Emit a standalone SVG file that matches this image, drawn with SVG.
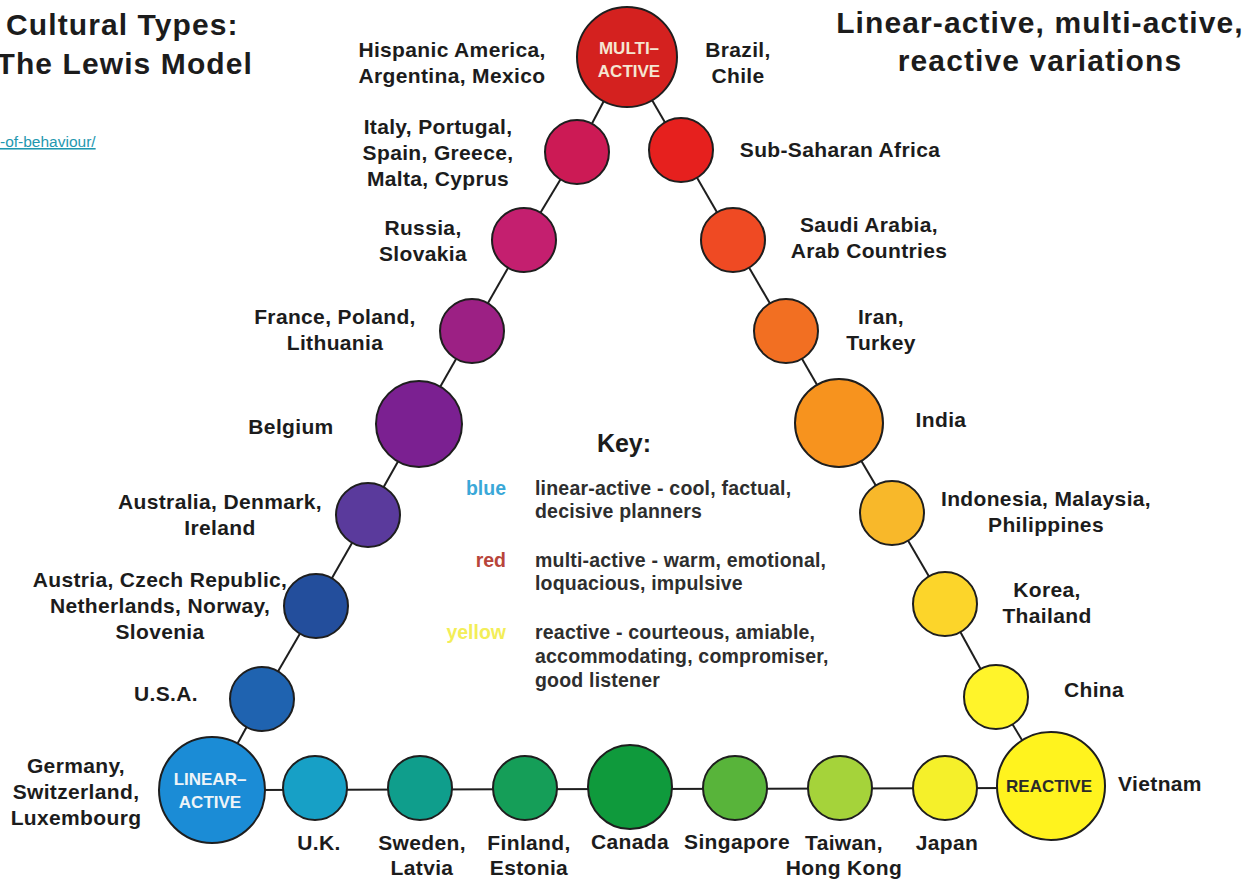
<svg xmlns="http://www.w3.org/2000/svg" width="1255" height="882" viewBox="0 0 1255 882">
<style>
.t{font-family:"Liberation Sans",Arial,sans-serif;font-weight:bold;fill:#1c1c1c}
.title{font-size:30px;letter-spacing:1.1px}
.lab{font-size:21px;letter-spacing:0.35px;text-anchor:middle}
.key{font-size:19.5px;fill:#2e2e2e;letter-spacing:0.2px}
.kc{font-size:19.5px;text-anchor:end}
.n{stroke:#1e1e1e;stroke-width:2}
.in{font-family:"Liberation Sans",Arial,sans-serif;font-weight:bold;font-size:17px;text-anchor:middle}
.c line{stroke:#1e1e1e;stroke-width:2}
</style>
<rect width="1255" height="882" fill="#ffffff"/>

<g id="titles">
<text class="t title" x="6" y="35">Cultural Types:</text>
<text class="t title" x="253" y="74" text-anchor="end">The Lewis Model</text>
<text class="t title" x="1040" y="33" text-anchor="middle">Linear-active, multi-active,</text>
<text class="t title" x="1040" y="71" text-anchor="middle">reactive variations</text>
<text x="0" y="147" font-family="Liberation Sans,Arial,sans-serif" font-size="15.5" fill="#1f98b0" text-decoration="underline">-of-behaviour/</text>
</g>

<g id="connectors" class="c">
<line x1="627" y1="57" x2="577" y2="152"/>
<line x1="577" y1="152" x2="524" y2="240"/>
<line x1="524" y1="240" x2="472" y2="331"/>
<line x1="472" y1="331" x2="419" y2="424"/>
<line x1="419" y1="424" x2="368" y2="515"/>
<line x1="368" y1="515" x2="316" y2="606"/>
<line x1="316" y1="606" x2="262" y2="699"/>
<line x1="262" y1="699" x2="212" y2="790"/>
<line x1="212" y1="790" x2="1051" y2="788"/>
<line x1="627" y1="57" x2="681" y2="150"/>
<line x1="681" y1="150" x2="733" y2="240"/>
<line x1="733" y1="240" x2="786" y2="331"/>
<line x1="786" y1="331" x2="839" y2="423"/>
<line x1="839" y1="423" x2="892" y2="513"/>
<line x1="892" y1="513" x2="945" y2="604"/>
<line x1="945" y1="604" x2="996" y2="697"/>
<line x1="996" y1="697" x2="1051" y2="788"/>
</g>

<g id="multi-active"><circle class="n" cx="627" cy="57" r="50" fill="#d4211f"/>
<text class="in" x="629" y="54" fill="#f5e6d2">MULTI–</text><text class="in" x="629" y="77" fill="#f5e6d2">ACTIVE</text></g>
<g id="italy"><circle class="n" cx="577" cy="152" r="32" fill="#cc1a55"/>
<text class="t lab" x="438" y="134">Italy, Portugal,</text><text class="t lab" x="438" y="160">Spain, Greece,</text><text class="t lab" x="438" y="186">Malta, Cyprus</text></g>
<g id="hispanic"><text class="t lab" x="452" y="57">Hispanic America,</text><text class="t lab" x="452" y="83">Argentina, Mexico</text></g>
<g id="brazil"><text class="t lab" x="738" y="57">Brazil,</text><text class="t lab" x="738" y="83">Chile</text></g>
<g id="russia"><circle class="n" cx="524" cy="240" r="32" fill="#c41f6f"/>
<text class="t lab" x="423" y="235">Russia,</text><text class="t lab" x="423" y="261">Slovakia</text></g>
<g id="france"><circle class="n" cx="472" cy="331" r="32" fill="#9c2084"/>
<text class="t lab" x="335" y="324">France, Poland,</text><text class="t lab" x="335" y="350">Lithuania</text></g>
<g id="belgium"><circle class="n" cx="419" cy="424" r="43" fill="#7b2091"/>
<text class="t lab" x="291" y="434">Belgium</text></g>
<g id="australia"><circle class="n" cx="368" cy="515" r="32" fill="#5a3a9c"/>
<text class="t lab" x="220" y="509">Australia, Denmark,</text><text class="t lab" x="220" y="535">Ireland</text></g>
<g id="austria"><circle class="n" cx="316" cy="606" r="32" fill="#234e9c"/>
<text class="t lab" x="160" y="587">Austria, Czech Republic,</text><text class="t lab" x="160" y="613">Netherlands, Norway,</text><text class="t lab" x="160" y="639">Slovenia</text></g>
<g id="usa"><circle class="n" cx="262" cy="699" r="32" fill="#1f63b0"/>
<text class="t lab" x="166" y="701">U.S.A.</text></g>
<g id="linear-active"><circle class="n" cx="212" cy="790" r="53" fill="#1b8cd6"/>
<text class="in" x="210" y="785" fill="#eef4f8">LINEAR–</text><text class="in" x="210" y="808" fill="#eef4f8">ACTIVE</text>
<text class="t lab" x="76" y="773">Germany,</text><text class="t lab" x="76" y="799">Switzerland,</text><text class="t lab" x="76" y="825">Luxembourg</text></g>
<g id="uk"><circle class="n" cx="315" cy="788" r="32" fill="#17a0c6"/>
<text class="t lab" x="319" y="850">U.K.</text></g>
<g id="sweden"><circle class="n" cx="420" cy="788" r="32" fill="#0f9e8c"/>
<text class="t lab" x="422" y="850">Sweden,</text><text class="t lab" x="422" y="875">Latvia</text></g>
<g id="finland"><circle class="n" cx="525" cy="788" r="32" fill="#159e58"/>
<text class="t lab" x="529" y="850">Finland,</text><text class="t lab" x="529" y="875">Estonia</text></g>
<g id="canada"><circle class="n" cx="630" cy="787" r="42" fill="#0f9a3c"/>
<text class="t lab" x="630" y="849">Canada</text></g>
<g id="singapore"><circle class="n" cx="735" cy="788" r="32" fill="#58b43a"/>
<text class="t lab" x="737" y="849">Singapore</text></g>
<g id="taiwan"><circle class="n" cx="840" cy="788" r="32" fill="#a5d33a"/>
<text class="t lab" x="844" y="850">Taiwan,</text><text class="t lab" x="844" y="875">Hong Kong</text></g>
<g id="japan"><circle class="n" cx="945" cy="788" r="32" fill="#f5f02a"/>
<text class="t lab" x="947" y="850">Japan</text></g>
<g id="reactive"><circle class="n" cx="1051" cy="786" r="54" fill="#fff31e"/>
<text class="in" x="1049" y="792" fill="#2a2a2a">REACTIVE</text>
<text class="t lab" x="1160" y="791">Vietnam</text></g>
<g id="china"><circle class="n" cx="996" cy="697" r="32" fill="#fff42a"/>
<text class="t lab" x="1094" y="697">China</text></g>
<g id="korea"><circle class="n" cx="945" cy="604" r="32" fill="#fcd52a"/>
<text class="t lab" x="1047" y="597">Korea,</text><text class="t lab" x="1047" y="623">Thailand</text></g>
<g id="indonesia"><circle class="n" cx="892" cy="513" r="32" fill="#f8b82a"/>
<text class="t lab" x="1046" y="506">Indonesia, Malaysia,</text><text class="t lab" x="1046" y="532">Philippines</text></g>
<g id="india"><circle class="n" cx="839" cy="423" r="44" fill="#f7931e"/>
<text class="t lab" x="941" y="427">India</text></g>
<g id="iran"><circle class="n" cx="786" cy="331" r="32" fill="#f26f22"/>
<text class="t lab" x="881" y="324">Iran,</text><text class="t lab" x="881" y="350">Turkey</text></g>
<g id="saudi"><circle class="n" cx="733" cy="240" r="32" fill="#ef4a23"/>
<text class="t lab" x="869" y="232">Saudi Arabia,</text><text class="t lab" x="869" y="258">Arab Countries</text></g>
<g id="subsaharan"><circle class="n" cx="681" cy="150" r="32" fill="#e6201e"/>
<text class="t lab" x="840" y="157">Sub-Saharan Africa</text></g>

<g id="key">
<text class="t" x="624" y="452" font-size="25" text-anchor="middle">Key:</text>
<text class="t kc" x="506" y="495" style="fill:#3aa8d8">blue</text>
<text class="t key" x="535" y="495">linear-active - cool, factual,</text>
<text class="t key" x="535" y="518">decisive planners</text>
<text class="t kc" x="506" y="567" style="fill:#b8453a">red</text>
<text class="t key" x="535" y="567">multi-active - warm, emotional,</text>
<text class="t key" x="535" y="590">loquacious, impulsive</text>
<text class="t kc" x="506" y="639" style="fill:#f3ee58">yellow</text>
<text class="t key" x="535" y="639">reactive - courteous, amiable,</text>
<text class="t key" x="535" y="663">accommodating, compromiser,</text>
<text class="t key" x="535" y="687">good listener</text>
</g>
</svg>
